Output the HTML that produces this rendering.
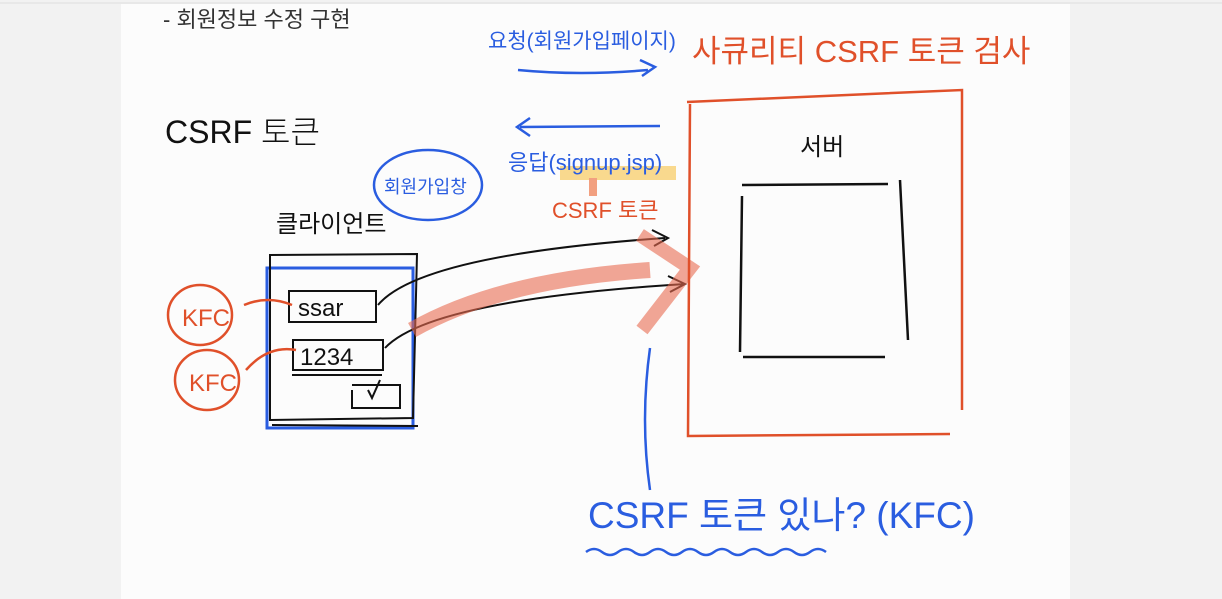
<!DOCTYPE html>
<html><head><meta charset="utf-8"><style>
html,body{margin:0;padding:0;width:1222px;height:599px;overflow:hidden;background:#f2f2f2}
svg{display:block}
text{font-family:"Liberation Sans","Noto Sans CJK KR",sans-serif}
</style></head><body>
<svg width="1222" height="599" viewBox="0 0 1222 599">
<rect x="0" y="0" width="1222" height="599" fill="#f2f2f2"/>
<rect x="121" y="4" width="949" height="595" fill="#fcfcfc"/>
<line x1="0" y1="3" x2="1222" y2="3" stroke="#ddd" stroke-width="1"/>
<text x="163" y="27" font-size="22" fill="#333">- 회원정보 수정 구현</text>
<text x="165" y="143" font-size="32" fill="#111" font-weight="300">CSRF 토큰</text>

<text x="488" y="48" font-size="21" fill="#2a5de0">요청(회원가입페이지)</text>
<path d="M518 70 Q580 76 648 70 M640 60 L655 67 L642 76" stroke="#2a5de0" stroke-width="2.5" fill="none"/>
<path d="M520 127 L660 126 M530 118 L517 127 L530 136" stroke="#2a5de0" stroke-width="2.5" fill="none"/>
<rect x="560" y="166" width="116" height="14" fill="#f8d27a" opacity="0.85"/>
<text x="508" y="170" font-size="22" fill="#2a5de0">응답(signup.jsp)</text>
<rect x="589" y="178" width="8" height="18" fill="#f2a080"/>
<text x="552" y="218" font-size="22" fill="#e0502a">CSRF 토큰</text>

<ellipse cx="428" cy="185" rx="54" ry="35" fill="none" stroke="#2a5de0" stroke-width="2.5"/>
<text x="384" y="193" font-size="18" fill="#2a5de0">회원가입창</text>

<text x="276" y="232" font-size="24" fill="#111">클라이언트</text>

<rect x="267" y="268" width="146" height="160" fill="none" stroke="#2a5de0" stroke-width="3"/>
<path d="M270 255 L417 254 L413 418 L270 420 Z M272 425 L418 426" fill="none" stroke="#111" stroke-width="2"/>
<rect x="289" y="291" width="87" height="31" fill="none" stroke="#111" stroke-width="2"/>
<text x="298" y="316" font-size="24" fill="#111">ssar</text>
<rect x="293" y="340" width="90" height="30" fill="none" stroke="#111" stroke-width="2"/>
<text x="300" y="365" font-size="24" fill="#111">1234</text>
<path d="M292 375 L382 375 M352 390 L352 408 L400 408 L400 385 L352 385 M368 390 L372 398 L380 380" fill="none" stroke="#111" stroke-width="2"/>

<ellipse cx="200" cy="315" rx="32" ry="30" fill="none" stroke="#e0502a" stroke-width="2.5"/>
<text x="182" y="326" font-size="24" fill="#e0502a">KFC</text>
<ellipse cx="207" cy="380" rx="32" ry="30" fill="none" stroke="#e0502a" stroke-width="2.5"/>
<text x="189" y="391" font-size="24" fill="#e0502a">KFC</text>
<path d="M244 305 Q268 295 292 305 M246 370 Q268 345 296 350" fill="none" stroke="#e0502a" stroke-width="2.5"/>

<path d="M378 305 Q420 255 665 238 M652 230 L668 238 L654 246" fill="none" stroke="#111" stroke-width="2"/>
<path d="M385 348 Q430 300 685 284 M668 276 L685 284 L670 292" fill="none" stroke="#111" stroke-width="2"/>
<path d="M412 330 Q500 280 650 270" fill="none" stroke="#e86a50" stroke-width="16" opacity="0.6"/>
<path d="M640 235 L690 268 L642 330" fill="none" stroke="#e86a50" stroke-width="14" opacity="0.6"/>

<text x="692" y="62" font-size="31" fill="#e0502a">사큐리티 CSRF 토큰 검사</text>
<path d="M687 102 L962 90 L962 410 M690 104 L688 436 L950 434" fill="none" stroke="#e0502a" stroke-width="2.5"/>
<text x="800" y="155" font-size="24" fill="#111">서버</text>
<path d="M742 185 L888 184 M742 196 L740 352 M743 357 L885 357 M900 180 L908 340" fill="none" stroke="#111" stroke-width="2.5"/>

<path d="M650 348 Q640 420 650 490" fill="none" stroke="#2a5de0" stroke-width="2.5"/>
<text x="588" y="528" font-size="37" fill="#2a5de0">CSRF 토큰 있나? (KFC)</text>
<path d="M586 552 q8 -6 16 0 t16 0 t16 0 t16 0 t16 0 t16 0 t16 0 t16 0 t16 0 t16 0 t16 0 t16 0 t16 0 t16 0 t16 0" fill="none" stroke="#2a5de0" stroke-width="2.5"/>
</svg>
</body></html>
